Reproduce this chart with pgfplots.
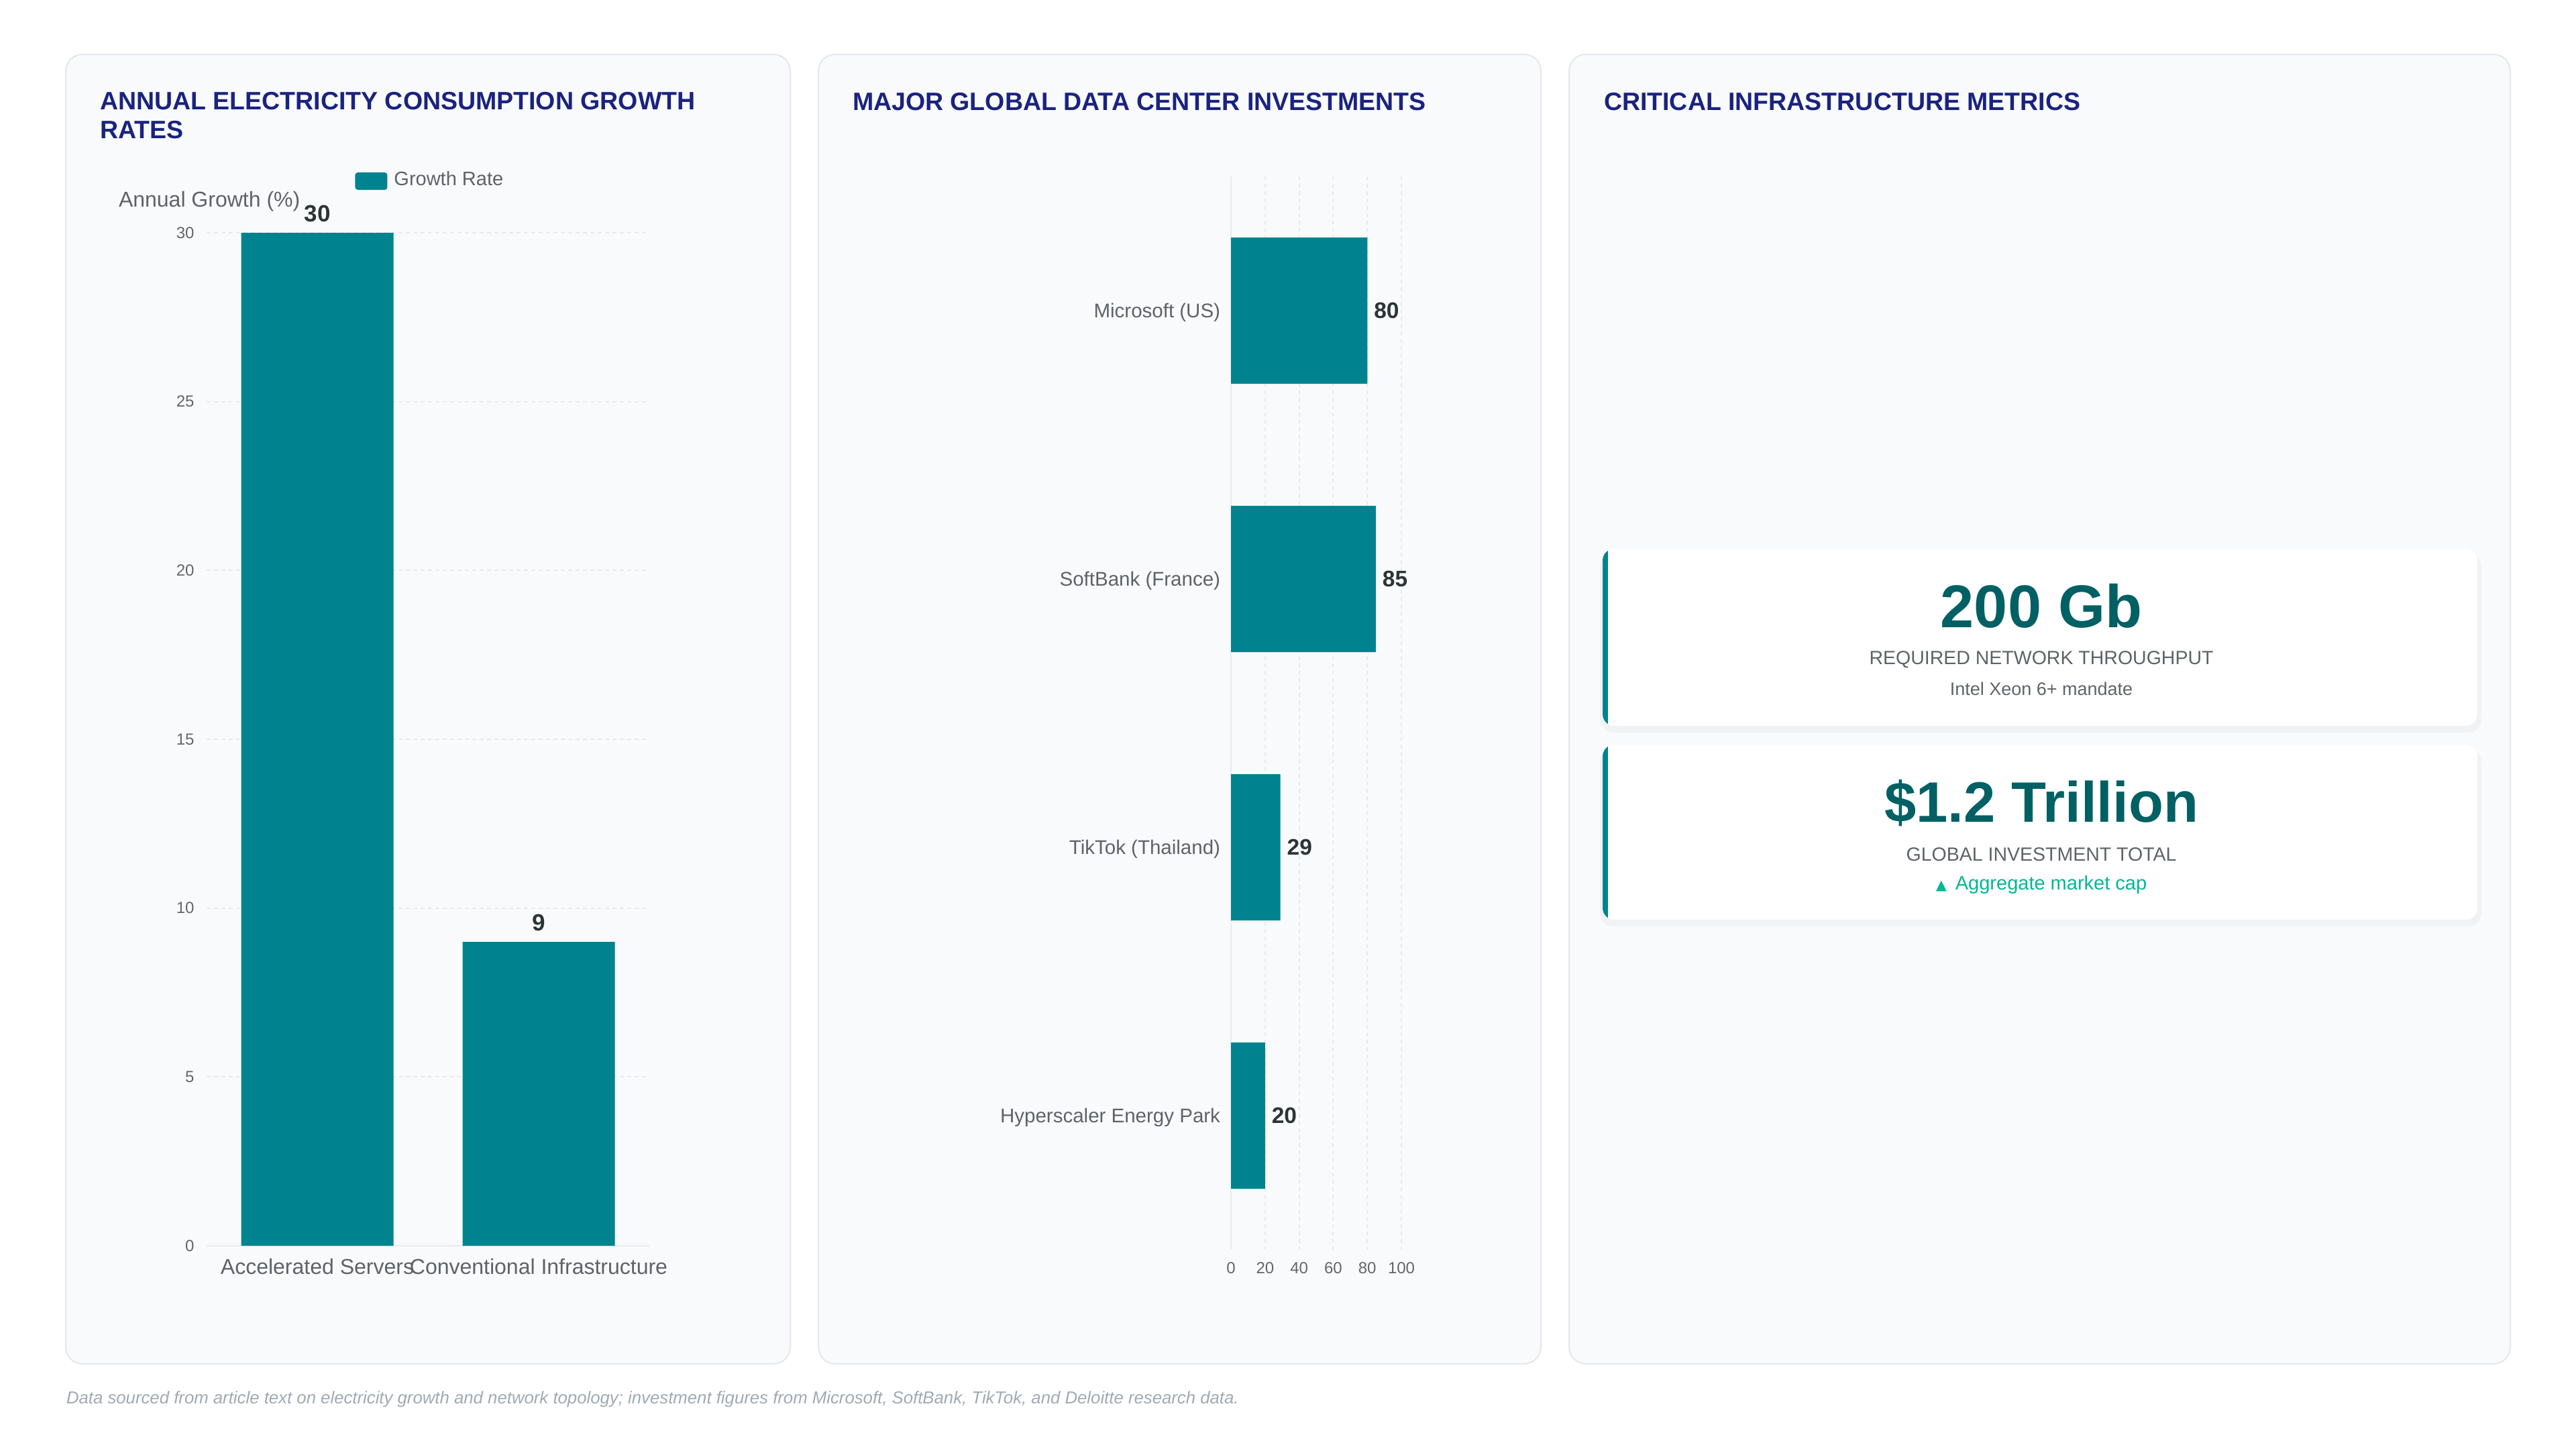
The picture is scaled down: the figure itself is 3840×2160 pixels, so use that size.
\documentclass[border=0pt]{standalone}
\usepackage{pgfplots}
\pgfplotsset{compat=1.18}
\usepackage{fontspec}
\setmainfont{Liberation Sans}
\newfontfamily\symfont{DejaVu Sans}
\definecolor{barteal}{HTML}{00838F}
\definecolor{titlenavy}{HTML}{1A237E}
\definecolor{bigteal}{HTML}{006064}
\definecolor{labelgray}{HTML}{5F6368}
\definecolor{tickgray}{HTML}{666666}
\definecolor{gridc}{HTML}{E8EAED}
\definecolor{panelbg}{HTML}{F8FAFC}
\definecolor{panelborder}{HTML}{E5E7EB}
\definecolor{valdark}{HTML}{2D3436}
\definecolor{mint}{HTML}{00B894}
\definecolor{footgray}{HTML}{A0AAB4}
\newcommand{\fs}[1]{\fontsize{#1}{1.2\dimexpr#1\relax}\selectfont}
\begin{document}
\begin{tikzpicture}
\begin{scope}[x=0.2pt,y=-0.2pt]
\path[use as bounding box, fill=white] (0,0) rectangle (3840,2160);
% panels
\foreach \a/\b in {98/1178,1220/2297,2339/3742}{
  \draw[fill=panelbg, draw=panelborder, line width=0.4pt, rounded corners=5pt] (\a,81) rectangle (\b,2033);
}
% titles
\node[anchor=base west, inner sep=0pt, text=titlenavy, font=\fs{7.5pt}\bfseries] at (148,163) {ANNUAL ELECTRICITY CONSUMPTION GROWTH};
\node[anchor=base west, inner sep=0pt, text=titlenavy, font=\fs{7.5pt}\bfseries] at (148,206) {RATES};
\node[anchor=base west, inner sep=0pt, text=titlenavy, font=\fs{7.5pt}\bfseries] at (1270,164) {MAJOR GLOBAL DATA CENTER INVESTMENTS};
\node[anchor=base west, inner sep=0pt, text=titlenavy, font=\fs{7.5pt}\bfseries] at (2390,164) {CRITICAL INFRASTRUCTURE METRICS};
% y axis title chart 1
\node[anchor=west, inner sep=0pt, text=labelgray, font=\fs{6.4pt}] at (176,300) {Annual Growth (\%)};
% cards
\foreach \t/\b in {818/1082,1110/1371}{
  \fill[black, opacity=0.03, rounded corners=4pt] (2385,\t+6) rectangle (3699,\b+10);
  \fill[white, rounded corners=3.5pt] (2389,\t) rectangle (3693,\b);
  \begin{scope}
    \clip[rounded corners=3.5pt] (2389,\t) rectangle (3693,\b);
    \fill[barteal] (2389,\t) rectangle (2397,\b);
  \end{scope}
}
\node[anchor=base, inner sep=0pt, text=bigteal, font=\fs{18pt}\bfseries] at (3043,935) {200 Gb};
\node[anchor=base, inner sep=0pt, text=labelgray, font=\fs{5.7pt}] at (3043,990) {REQUIRED NETWORK THROUGHPUT};
\node[anchor=base, inner sep=0pt, text=labelgray, font=\fs{5.4pt}] at (3043,1036) {Intel Xeon 6+ mandate};
\node[anchor=base, inner sep=0pt, text=bigteal, font=\fs{17pt}\bfseries] at (3043,1225) {\$1.2 Trillion};
\node[anchor=base, inner sep=0pt, text=labelgray, font=\fs{5.7pt}] at (3043,1283) {GLOBAL INVESTMENT TOTAL};
\node[anchor=base, inner sep=0pt, text=mint, font=\fs{5.8pt}] at (3043,1326) {{\symfont\fs{4.2pt}▲}\, Aggregate market cap};
% footer
\node[anchor=base west, inner sep=0pt, text=footgray, font=\fs{5.15pt}\itshape] at (98,2092) {Data sourced from article text on electricity growth and network topology; investment figures from Microsoft, SoftBank, TikTok, and Deloitte research data.};
\end{scope}

% Chart 1
\begin{axis}[
  at={(61.6pt,-371.4pt)}, anchor=south west,
  scale only axis, width=132pt, height=302pt,
  xmin=-0.5, xmax=1.5, ymin=0, ymax=30,
  ybar, bar width=45.4pt,
  xtick={0,1}, xticklabels={Accelerated Servers, Conventional Infrastructure},
  ytick={0,5,10,15,20,25,30},
  axis line style={draw=none},
  major tick length=0pt,
  ymajorgrids, grid style={gridc, line width=0.4pt, dash pattern=on 1.2pt off 1pt},
  extra y ticks={0}, extra y tick labels={},
  extra y tick style={grid style={solid, gridc, line width=0.5pt}},
  /pgf/number format/assume math mode=true,
  yticklabel style={anchor=east, inner sep=0pt, xshift=-3.5pt, text=tickgray, font=\fs{4.8pt}},
  xticklabel style={anchor=base, inner sep=0pt, yshift=-8.5pt, text=labelgray, font=\fs{6.4pt}},
  legend style={at={(0.334,1.051)}, anchor=west, draw=none, fill=none, inner sep=0pt,
     font=\fs{5.8pt}, text=labelgray, column sep=0pt},
  legend image code/.code={\fill[barteal, rounded corners=0.8pt] (0pt,-2.6pt) rectangle (9.6pt,2.6pt);},
  clip=false,
]
\addplot[fill=barteal, draw=none, nodes near coords,
  nodes near coords style={anchor=base, inner sep=0pt, yshift=3.3pt, text=valdark, font=\fs{7pt}\bfseries}]
  coordinates {(0,30) (1,9)};
\addlegendentry{Growth Rate}
\end{axis}

% Chart 2
\begin{axis}[
  at={(367pt,-372.6pt)}, anchor=south west,
  scale only axis, width=50.8pt, height=320pt,
  xmin=0, xmax=100, ymin=-0.5, ymax=3.5, y dir=reverse,
  xbar, bar width=43.6pt,
  ytick={0,1,2,3}, yticklabels={Microsoft (US), SoftBank (France), TikTok (Thailand), Hyperscaler Energy Park},
  xtick={0,20,40,60,80,100},
  axis line style={draw=none},
  major tick length=0pt,
  xmajorgrids, grid style={gridc, line width=0.4pt, dash pattern=on 1.2pt off 1pt},
  extra x ticks={0}, extra x tick labels={},
  extra x tick style={grid style={solid, gridc, line width=0.5pt}},
  /pgf/number format/assume math mode=true,
  xticklabel style={anchor=base, inner sep=0pt, yshift=-7.1pt, text=tickgray, font=\fs{4.8pt}},
  yticklabel style={anchor=base east, inner sep=0pt, xshift=-3pt, yshift=-2.1pt, text=labelgray, font=\fs{5.9pt}},
  clip=false,
]
\addplot[fill=barteal, draw=none, nodes near coords,
  nodes near coords style={anchor=west, inner sep=0pt, xshift=1.8pt, text=valdark, font=\fs{6.7pt}\bfseries}]
  coordinates {(80,0) (85,1) (29,2) (20,3)};
\end{axis}
\end{tikzpicture}
\end{document}
